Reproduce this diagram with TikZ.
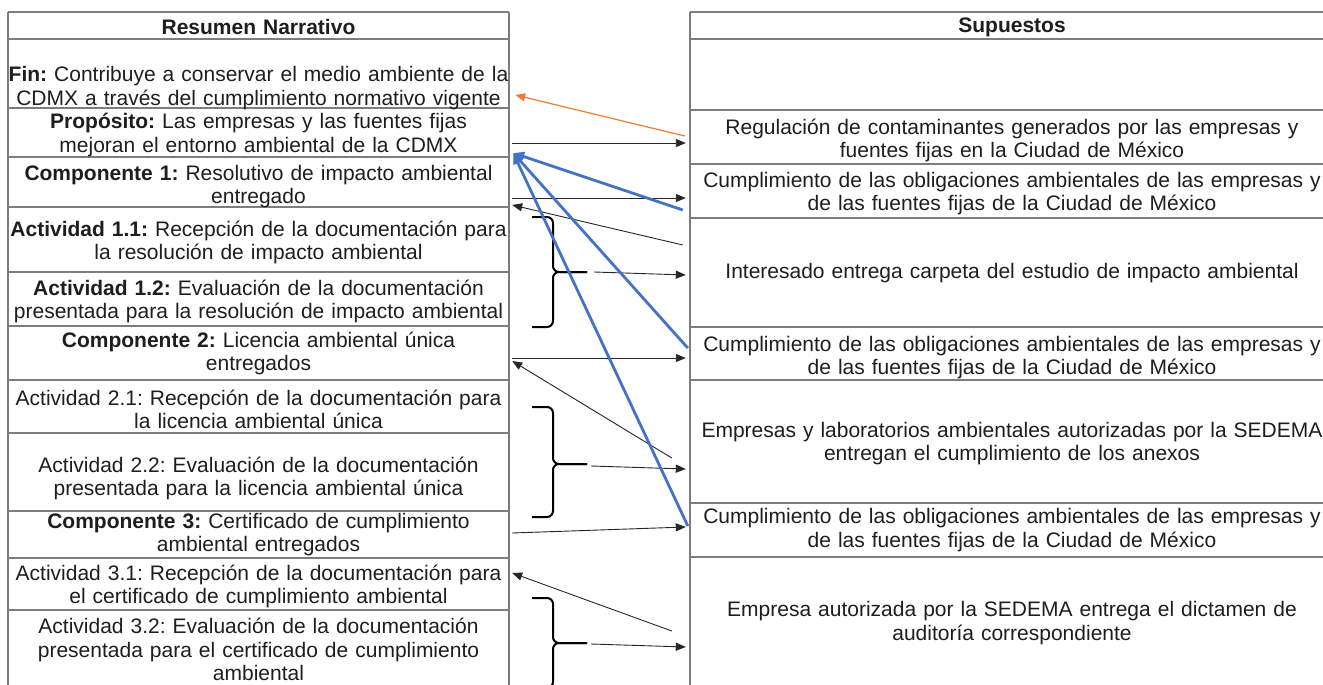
\documentclass[tikz,border=0pt]{standalone}
\usepackage{fontspec}
\setmainfont{Liberation Sans}
\usetikzlibrary{arrows.meta}
\frenchspacing
\definecolor{gridgray}{RGB}{125,125,125}
\definecolor{txt}{RGB}{30,30,30}
\definecolor{mblue}{RGB}{68,114,196}
\definecolor{morange}{RGB}{237,125,49}
\tikzset{
 cell/.style={font=\fontsize{21}{23.5}\selectfont\frenchspacing, text=txt, align=center, inner sep=0pt, yshift=-1.5pt},
 lcell/.style={cell, text width=501pt},
 rcell/.style={cell, text width=644pt},
 gridline/.style={draw=gridgray, line width=1.4pt},
 arr/.style={draw=black!85, line width=0.9pt, -{Triangle[length=10pt,width=8pt]}},
 oarr/.style={draw=morange, line width=1.2pt, -{Triangle[length=10pt,width=8pt]}},
 barr/.style={draw=mblue, line width=2.8pt, -{Triangle[length=11pt,width=9pt]}},
 bracepath/.style={draw=black, line width=2pt, rounded corners=6pt},
}
\begin{document}
\begin{tikzpicture}[x=1pt,y=-1pt]
\useasboundingbox (0,0) rectangle (1323,685);
\fill[white] (0,0) rectangle (1323,685);
\clip (0,0) rectangle (1323,685);
% left table grid
\draw[gridline] (8,12) -- (8,690) (509,12) -- (509,690);
\foreach \yy in {12,39,108,157,207,272,326,380,433,511,558,610}
  \draw[gridline] (8,\yy) -- (509,\yy);
% right table grid
\draw[gridline] (690,12) -- (690,690) (1334,12) -- (1334,690);
\foreach \yy in {12,39,110,164,218,327,380,503,557}
  \draw[gridline] (690,\yy) -- (1334,\yy);
% left texts
\node[lcell] (lhead) at (258.5,25.5) {\textbf{Resumen Narrativo}};
\node[lcell] (fin) at (258.5,86.5) {\mbox{\textbf{Fin:} Contribuye a conservar el medio ambiente de la}\\\mbox{CDMX a través del cumplimiento normativo vigente}};
\node[lcell] (prop) at (258.5,133.5) {\textbf{Propósito:} Las empresas y las fuentes fijas\\mejoran el entorno ambiental de la CDMX};
\node[lcell] (comp1) at (258.5,185) {\textbf{Componente 1:} Resolutivo de impacto ambiental\\entregado};
\node[lcell] (a11) at (258.5,241) {\mbox{\textbf{Actividad 1.1:} Recepción de la documentación para}\\la resolución de impacto ambiental};
\node[lcell] (a12) at (258.5,300) {\textbf{Actividad 1.2:} Evaluación de la documentación\\\mbox{presentada para la resolución de impacto ambiental}};
\node[lcell] (comp2) at (258.5,352) {\textbf{Componente 2:} Licencia ambiental única\\entregados};
\node[lcell] (a21) at (258.5,408) {\mbox{Actividad 2.1: Recepción de la documentación para}\\la licencia ambiental única};
\node[lcell] (a22) at (258.5,477) {Actividad 2.2: Evaluación de la documentación\\presentada para la licencia ambiental única};
\node[lcell] (comp3) at (258.5,533) {\textbf{Componente 3:} Certificado de cumplimiento\\ambiental entregados};
\node[lcell] (a31) at (258.5,585) {\mbox{Actividad 3.1: Recepción de la documentación para}\\el certificado de cumplimiento ambiental};
\node[lcell] (a32) at (258.5,648) {Actividad 3.2: Evaluación de la documentación\\presentada para el certificado de cumplimiento\\ambiental};
% right texts
\node[rcell] (rhead) at (1012,25.5) {\textbf{Supuestos}};
\node[rcell] (reg) at (1012,139) {Regulación de contaminantes generados por las empresas y\\fuentes fijas en la Ciudad de México};
\node[rcell] (cum1) at (1012,192) {\mbox{Cumplimiento de las obligaciones ambientales de las empresas y}\\de las fuentes fijas de la Ciudad de México};
\node[rcell] (int) at (1012,272) {Interesado entrega carpeta del estudio de impacto ambiental};
\node[rcell] (cum2) at (1012,356) {\mbox{Cumplimiento de las obligaciones ambientales de las empresas y}\\de las fuentes fijas de la Ciudad de México};
\node[rcell] (emp) at (1012,442) {\mbox{Empresas y laboratorios ambientales autorizadas por la SEDEMA}\\entregan el cumplimiento de los anexos};
\node[rcell] (cum3) at (1012,528.5) {\mbox{Cumplimiento de las obligaciones ambientales de las empresas y}\\de las fuentes fijas de la Ciudad de México};
\node[rcell] (aud) at (1012,621.5) {Empresa autorizada por la SEDEMA entrega el dictamen de\\auditoría correspondiente};
% braces
\draw[bracepath] (532,217) -- (553,217) -- (553,272) -- (587,272);
\draw[bracepath] (532,327) -- (553,327) -- (553,272) -- (587,272);
\draw[bracepath] (532,407) -- (553,407) -- (553,464) -- (587,464);
\draw[bracepath] (532,517) -- (553,517) -- (553,464) -- (587,464);
\draw[bracepath] (532,598) -- (553,598) -- (553,643) -- (587,643);
\draw[bracepath] (532,688) -- (553,688) -- (553,643) -- (587,643);
\coordinate (b1) at (594,272);
\coordinate (b2) at (591,466);
\coordinate (b3) at (591,644);
% connectors
\draw[oarr] ([shift={(-5,-4.5)}]reg.west) -- ([shift={(6,7)}]fin.east);
\draw[arr] ([shift={(3,8)}]prop.east) -- ([shift={(-4,2.5)}]reg.west);
\draw[arr] ([shift={(3,11.5)}]comp1.east) -- ([shift={(-4,4.5)}]cum1.west);
\draw[arr] ([shift={(-7,-28.5)}]int.west) -- ([shift={(3,18.5)}]comp1.east);
\draw[arr] (b1) -- ([shift={(-4,1.5)}]int.west);
\draw[arr] ([shift={(3,4.5)}]comp2.east) -- ([shift={(-4,0.5)}]cum2.west);
\draw[arr] ([shift={(-18,14.5)}]emp.west) -- ([shift={(3,7.5)}]comp2.east);
\draw[arr] (b2) -- ([shift={(-4,25.5)}]emp.west);
\draw[arr] ([shift={(3,-1.5)}]comp3.east) -- ([shift={(-4,-3)}]cum3.west);
\draw[arr] ([shift={(-18,8)}]aud.west) -- ([shift={(3,-13.5)}]a31.east);
\draw[arr] (b3) -- ([shift={(-4,24)}]aud.west);
\draw[barr] ([shift={(-7,16.5)}]cum1.west) -- ([shift={(4,18)}]prop.east);
\draw[barr] ([shift={(-2,-9.5)}]cum2.west) -- ([shift={(4,18)}]prop.east);
\draw[barr] ([shift={(-2,-4)}]cum3.west) -- ([shift={(4,18)}]prop.east);
\end{tikzpicture}
\end{document}
